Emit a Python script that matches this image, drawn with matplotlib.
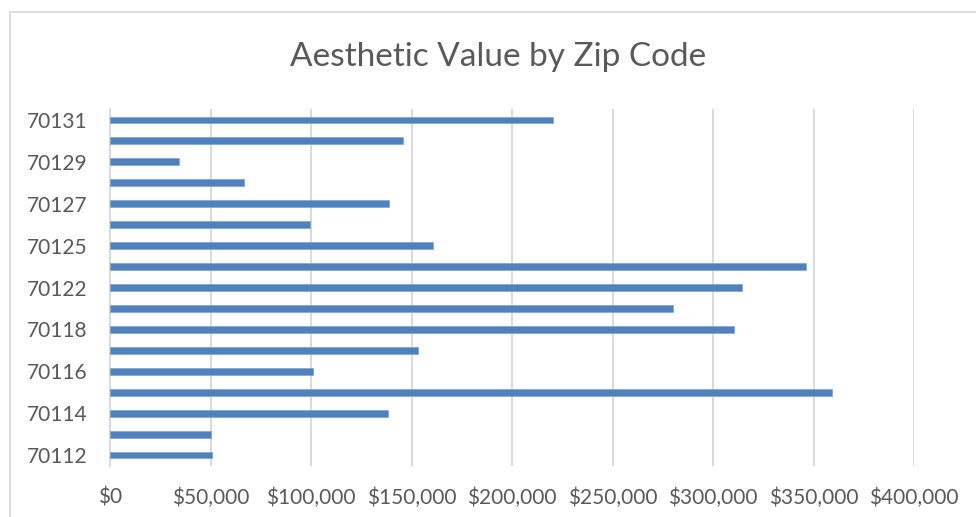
import matplotlib
matplotlib.use("Agg")
import matplotlib.pyplot as plt
from matplotlib.patches import Rectangle
from matplotlib.ticker import FuncFormatter

zip_codes = ["70112", "70113", "70114", "70115", "70116", "70117", "70118", "70119",
             "70122", "70124", "70125", "70126", "70127", "70128", "70129", "70130", "70131"]
values = [50700, 50200, 138200, 359000, 101000, 153100, 310300, 280100,
          314600, 346100, 160900, 99300, 139000, 66800, 34200, 145900, 220200]
x_ticks = [0, 50000, 100000, 150000, 200000, 250000, 300000, 350000, 400000]

plt.rcParams['font.family'] = ['Lato', 'DejaVu Sans']

W, H = 976, 517
fig = plt.figure(figsize=(W / 100, H / 100), dpi=100)
fig.patch.set_facecolor("white")

# chart border (extends past right/bottom edges as in reference)
fig.patches.append(Rectangle((9.5 / W, -0.1), 1.2, (H - 11.5) / H + 0.1,
                             transform=fig.transFigure, fill=False,
                             edgecolor="#d9d9d9", linewidth=1.3))

ax = fig.add_axes([110 / W, 51.5 / H, (914 - 110) / W, (465.5 - 109.5) / H])
pos = list(range(len(zip_codes)))
ax.barh(pos, values, height=0.33, color="#4f81bd", edgecolor="#7fa3d1", linewidth=0.5, zorder=3)

ax.set_xlim(0, 400000)
ax.set_ylim(-0.5, len(zip_codes) - 0.5)
ax.set_xticks(x_ticks)
ax.xaxis.set_major_formatter(FuncFormatter(lambda v, p: "${:,.0f}".format(v)))
ax.set_yticks(pos[::2])
ax.set_yticklabels(zip_codes[::2])
ax.grid(axis="x", color="#d9d9d9", linewidth=1.4, zorder=0)
ax.tick_params(axis="both", length=0, labelsize=15, labelcolor="#595959")
ax.tick_params(axis="y", pad=16)
ax.tick_params(axis="x", pad=16)
for s in ["top", "right", "bottom"]:
    ax.spines[s].set_visible(False)
ax.spines["left"].set_color("#d9d9d9")
ax.spines["left"].set_linewidth(1.4)

fig.text(498.5 / W, 1 - 57 / H, "Aesthetic Value by Zip Code", ha="center", va="center",
         fontsize=24, color="#595959")

fig.savefig("out.png", dpi=100, facecolor="white")
